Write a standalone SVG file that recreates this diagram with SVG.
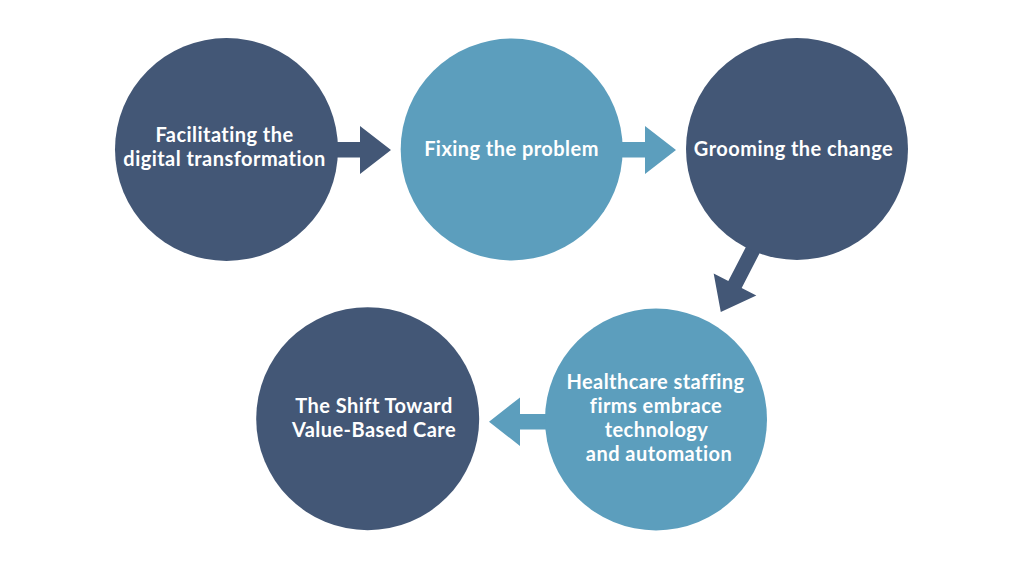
<svg xmlns="http://www.w3.org/2000/svg" width="1024" height="569" viewBox="0 0 1024 569">
<defs>
<style>
.dark{fill:#435776}
.light{fill:#5c9ebd}
.lbl{fill:#ffffff;font-family:Lato,"Open Sans",sans-serif;font-weight:700;font-size:20px;letter-spacing:0.45px;text-anchor:middle}
</style>
<path id="arr" d="M-60,-7.5 L0,-7.5 L0,-24 L31,0 L0,24 L0,7.5 L-60,7.5 Z"/>
</defs>
<rect width="1024" height="569" fill="#ffffff"/>
<g id="connectors">
<path class="dark" d="M330,142 L360,142 L360,126 L391,150 L360,174 L360,157.5 L330,157.5 Z"/>
<path class="light" d="M615,142 L645,142 L645,126 L676,150 L645,174 L645,157.5 L615,157.5 Z"/>
<use href="#arr" class="dark" transform="translate(735,284.5) rotate(117.3)"/>
<path class="light" d="M552,414 L520,414 L520,397.5 L489,421.7 L520,446 L520,429.5 L552,429.5 Z"/>
</g>
<g id="node1">
<circle class="dark" cx="226.5" cy="149.5" r="111.5"/>
<text class="lbl" x="224.5" y="142">Facilitating the</text>
<text class="lbl" x="224.5" y="166">digital transformation</text>
</g>
<g id="node2">
<circle class="light" cx="511.7" cy="149.5" r="111"/>
<text class="lbl" x="511.5" y="156">Fixing the problem</text>
</g>
<g id="node3">
<circle class="dark" cx="797" cy="149" r="111"/>
<text class="lbl" x="793.5" y="156">Grooming the change</text>
</g>
<g id="node4">
<circle class="light" cx="656" cy="419.5" r="111"/>
<text class="lbl" x="655.5" y="389">Healthcare staffing</text>
<text class="lbl" x="656" y="413">firms embrace</text>
<text class="lbl" x="656.5" y="437">technology</text>
<text class="lbl" x="659" y="461">and automation</text>
</g>
<g id="node5">
<circle class="dark" cx="367.7" cy="418.7" r="111.5"/>
<text class="lbl" x="374" y="413">The Shift Toward</text>
<text class="lbl" x="374" y="437">Value-Based Care</text>
</g>
</svg>
